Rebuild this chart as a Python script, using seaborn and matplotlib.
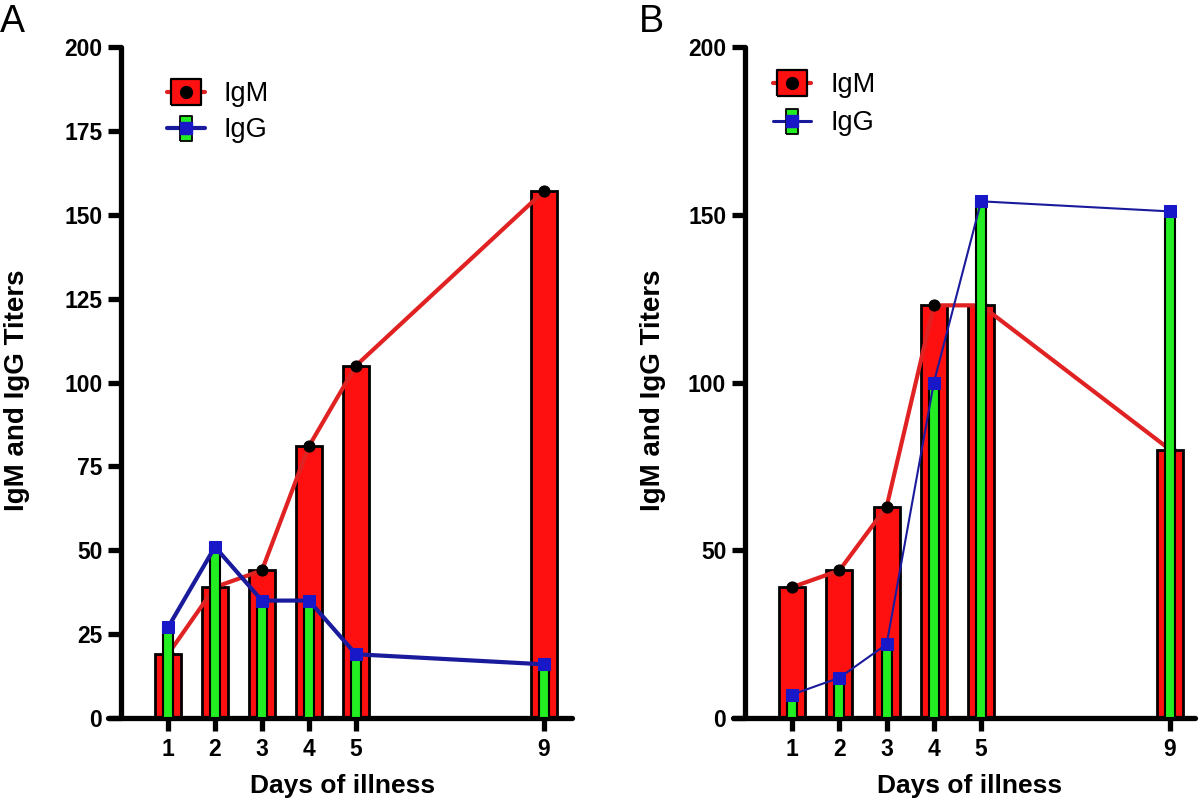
import numpy as np
import seaborn as sns
import matplotlib.pyplot as plt
from matplotlib.lines import Line2D
from matplotlib.legend_handler import HandlerTuple

# Datos
days = [1, 2, 3, 4, 5, 9]
igm_a = [19, 39, 44, 81, 105, 157]
igg_a = [27, 51, 35, 35, 19, 16]
igm_b = [39, 44, 63, 123, 123, 80]
igg_b = [7, 12, 22, 100, 154, 151]
yticks_a = [0, 25, 50, 75, 100, 125, 150, 175, 200]
yticks_b = [0, 50, 100, 150, 200]

RED = '#ff1010'
RED_LINE = '#e02222'
GREEN = '#22ee22'
BLUE = '#1a1a9c'
BLUE_MK = '#1818c8'

sns.set_style('ticks')
plt.rcParams['font.family'] = ['Liberation Sans', 'DejaVu Sans']
plt.rcParams['text.color'] = 'black'
plt.rcParams['axes.labelcolor'] = 'black'
plt.rcParams['xtick.color'] = 'black'
plt.rcParams['ytick.color'] = 'black'
plt.rcParams['axes.edgecolor'] = 'black'

fig = plt.figure(figsize=(12, 8.02), dpi=100)
ax_a = fig.add_axes([108 / 1200, 1 - 718 / 802, 464 / 1200, 671 / 802])
ax_b = fig.add_axes([733 / 1200, 1 - 718 / 802, 462 / 1200, 671 / 802])


def panel(ax, igm, igg, yticks, blue_lw, xlim, ylab_x, xlab_x):
    sns.barplot(x=days, y=igm, native_scale=True, width=0.55, color=RED,
                saturation=1, edgecolor='black', linewidth=2, zorder=1, ax=ax)
    sns.lineplot(x=days, y=igm, color=RED_LINE, lw=3, marker='o', markersize=8,
                 markerfacecolor='black', markeredgecolor='black', zorder=2, ax=ax)
    sns.barplot(x=days, y=igg, native_scale=True, width=0.21, color=GREEN,
                saturation=1, edgecolor='black', linewidth=1.5, zorder=3, ax=ax)
    sns.lineplot(x=days, y=igg, color=BLUE, lw=blue_lw, marker='s', markersize=8.5,
                 markerfacecolor=BLUE_MK, markeredgecolor=BLUE_MK, zorder=4, ax=ax)

    sns.despine(ax=ax)
    ax.spines['left'].set_position(('data', 0))
    for s in ['left', 'bottom']:
        ax.spines[s].set_linewidth(3.8)
        ax.spines[s].set_capstyle('round')
        ax.spines[s].set_color('black')

    ax.set_xlim(*xlim)
    ax.set_ylim(0, 200)
    ax.set_xticks(days)
    ax.set_xticklabels([str(d) for d in days])
    ax.set_yticks(yticks)
    ax.set_yticklabels([str(t) for t in yticks])
    for lab in ax.get_xticklabels() + ax.get_yticklabels():
        lab.set_fontweight('bold')
        lab.set_fontsize(16.5)
        lab.set_color('black')
    ax.tick_params(axis='both', width=3.8, length=9.5, color='black')
    ax.tick_params(axis='x', pad=5)
    ax.tick_params(axis='y', pad=4)

    ax.set_xlabel('Days of illness', fontsize=19, fontweight='bold')
    ax.set_ylabel('IgM and IgG Titers', fontsize=20, fontweight='bold')
    ax.xaxis.set_label_coords(xlab_x, -0.084)
    ax.yaxis.set_label_coords(ylab_x, 0.488)

    # leyenda con simbolos compuestos
    rect = [(-1.16, -1), (1.16, -1), (1.16, 1), (-1.16, 1), (-1.16, -1)]
    vrect = [(-0.48, -1), (0.48, -1), (0.48, 1), (-0.48, 1), (-0.48, -1)]
    h_igm = (Line2D([], [], color=RED_LINE, lw=3),
             Line2D([], [], ls='none', marker=rect, ms=21, mfc=RED, mec='black', mew=1.6),
             Line2D([], [], ls='none', marker='o', ms=8.5, mfc='black', mec='black'))
    h_igg = (Line2D([], [], color=BLUE, lw=3 if blue_lw > 2 else 2.2),
             Line2D([], [], ls='none', marker=vrect, ms=18, mfc=GREEN, mec='black', mew=1.3),
             Line2D([], [], ls='none', marker='s', ms=8.5, mfc=BLUE_MK, mec=BLUE_MK))
    return [h_igm, h_igg]


def add_legend(ax, handles, left_px, top_px, spacing, textpad):
    ax.legend(handles, ['IgM', 'IgG'], handler_map={tuple: HandlerTuple(ndivide=1)},
              loc='upper left', bbox_to_anchor=(left_px / 1200, 1 - top_px / 802),
              bbox_transform=fig.transFigure, frameon=False, borderpad=0,
              borderaxespad=0, fontsize=19.5, handlelength=1.4,
              handletextpad=textpad, labelspacing=spacing)


h = panel(ax_a, igm_a, igg_a, yticks_a, 3, (-0.277, 9.6), -0.168, 0.506)
add_legend(ax_a, h, 167, 81, 0.38, 0.67)

h = panel(ax_b, igm_b, igg_b, yticks_b, 1.5, (-0.254, 9.53), -0.145, 0.511)
add_legend(ax_b, h, 773, 72, 0.45, 0.74)

fig.text(0.0, 0.995, 'A', fontsize=27, va='top', ha='left')
fig.text(0.532, 0.995, 'B', fontsize=27, va='top', ha='left')

fig.savefig('out.png', dpi=100)
